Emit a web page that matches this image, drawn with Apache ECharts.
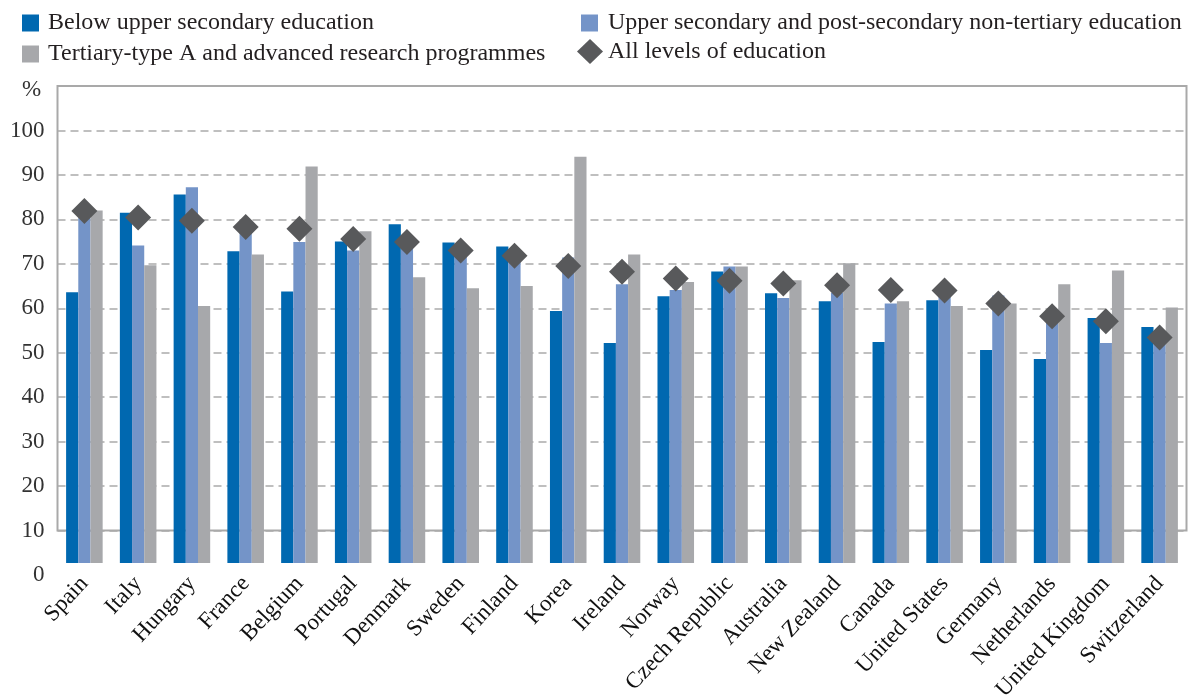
<!DOCTYPE html>
<html>
<head>
<meta charset="utf-8">
<script src="https://cdn.jsdelivr.net/npm/echarts@6/dist/echarts.min.js"></script>
<style>
  html, body { margin: 0; padding: 0; background: #fff; }
  #chart { width: 1196px; height: 697px; }
</style>
</head>
<body>
<div id="chart"></div>
<script>
const categories = ['Spain', 'Italy', 'Hungary', 'France', 'Belgium', 'Portugal', 'Denmark', 'Sweden', 'Finland', 'Korea', 'Ireland', 'Norway', 'Czech Republic', 'Australia', 'New Zealand', 'Canada', 'United States', 'Germany', 'Netherlands', 'United Kingdom', 'Switzerland'];
const belowUpperSecondary = [63.6, 81.5, 85.6, 72.8, 63.8, 75.0, 78.9, 74.8, 73.9, 59.4, 52.2, 62.7, 68.3, 63.4, 61.6, 52.4, 61.8, 50.6, 48.6, 57.8, 55.8];
const upperSecondary = [80.3, 74.1, 87.2, 77.0, 74.9, 73.0, 74.5, 72.0, 71.0, 71.4, 65.4, 64.1, 69.4, 62.3, 63.5, 61.1, 62.9, 62.9, 58.0, 52.2, 53.0];
const tertiaryA = [82.0, 69.7, 60.5, 72.1, 91.9, 77.3, 67.0, 64.5, 65.0, 94.1, 72.1, 65.9, 69.4, 66.3, 70.1, 61.6, 60.5, 61.1, 65.4, 68.5, 60.2];
const allLevels = [81.9, 80.4, 79.7, 78.3, 77.9, 75.6, 74.9, 73.0, 71.8, 69.5, 68.2, 66.7, 66.2, 65.6, 65.2, 64.1, 64.0, 61.1, 58.2, 57.1, 53.4];
const yTicks = { min: 0, max: 110, interval: 10 };
const seriesNames = ['Below upper secondary education', 'Upper secondary and post-secondary non-tertiary education', 'Tertiary-type A and advanced research programmes', 'All levels of education'];

const FONT = 'Liberation Serif';
const chart = echarts.init(document.getElementById('chart'), null, { renderer: 'canvas' });
const legendText = { fontFamily: FONT, fontSize: 24, color: '#231f20' };
const option = {
  animation: false,
  backgroundColor: '#ffffff',
  title: {
    text: '%', left: 22, top: 78, padding: 0,
    textStyle: { fontFamily: FONT, fontSize: 23, fontWeight: 'normal', color: '#333' }
  },
  legend: [
    { left: 22, top: 11, padding: 0, itemWidth: 17, itemHeight: 17, selectedMode: false,
      data: [{ name: seriesNames[0], icon: 'rect' }], textStyle: Object.assign({ padding: [0, 0, 0, 4] }, legendText) },
    { left: 22, top: 42, padding: 0, itemWidth: 17, itemHeight: 17, selectedMode: false,
      data: [{ name: seriesNames[2], icon: 'rect' }], textStyle: Object.assign({ padding: [0, 0, 0, 4] }, legendText) },
    { left: 581, top: 11, padding: 0, itemWidth: 17, itemHeight: 17, selectedMode: false,
      data: [{ name: seriesNames[1], icon: 'rect' }], textStyle: Object.assign({ padding: [0, 0, 0, 5] }, legendText) },
    { left: 577, top: 39, padding: 0, itemWidth: 26, itemHeight: 25, selectedMode: false,
      data: [{ name: seriesNames[3], icon: 'diamond', itemStyle: { color: '#58595b', opacity: 1 } }], textStyle: Object.assign({ padding: [0, 0, 0, 0] }, legendText) }
  ],
  grid: [
    { left: 57.5, right: 9.5, top: 86, bottom: 122, outerBoundsMode: 'none', containLabel: false },
    { left: 57.5, right: 9.5, top: 86, bottom: 166.5, outerBoundsMode: 'none', containLabel: false, show: true, borderColor: '#a9a9a9', borderWidth: 2, backgroundColor: 'transparent' }
  ],
  xAxis: [
    { type: 'category', gridIndex: 0, data: categories, z: 100,
      axisLine: { show: false }, axisTick: { show: false },
      axisLabel: { interval: 0, rotate: 47, margin: 5, fontFamily: FONT, fontSize: 23, color: '#111' } },
    { type: 'value', gridIndex: 1, show: false }
  ],
  yAxis: [
    { type: 'value', gridIndex: 0, min: yTicks.min, max: yTicks.max, interval: yTicks.interval,
      axisLine: { show: false }, axisTick: { show: false },
      splitLine: { show: true, showMinLine: false, showMaxLine: false, lineStyle: { type: [8, 5], color: '#ababab', width: 1.5 } },
      axisLabel: { showMaxLabel: false, margin: 13, fontFamily: FONT, fontSize: 23, color: '#333', verticalAlign: 'middle', padding: [0, 0, 19, 0] } },
    { type: 'value', gridIndex: 1, show: false }
  ],
  graphic: [
    { type: 'rect', z: 50, silent: true, shape: { x: 50, y: 563, width: 1146, height: 14 }, style: { fill: '#ffffff' } }
  ],
  series: [
    { name: seriesNames[0], type: 'bar', xAxisIndex: 0, yAxisIndex: 0, data: belowUpperSecondary,
      itemStyle: { color: '#0068b0' }, barGap: '0%', barCategoryGap: '32%' },
    { name: seriesNames[1], type: 'bar', xAxisIndex: 0, yAxisIndex: 0, data: upperSecondary,
      itemStyle: { color: '#7494c8' }, barGap: '0%', barCategoryGap: '32%' },
    { name: seriesNames[2], type: 'bar', xAxisIndex: 0, yAxisIndex: 0, data: tertiaryA,
      itemStyle: { color: '#a7a8ab' }, barGap: '0%', barCategoryGap: '32%' },
    { name: seriesNames[3], type: 'scatter', xAxisIndex: 0, yAxisIndex: 0, data: allLevels, z: 3,
      symbol: 'diamond', symbolSize: 26, itemStyle: { color: '#58595b', opacity: 1 } }
  ]
};
chart.setOption(option);
</script>
</body>
</html>
